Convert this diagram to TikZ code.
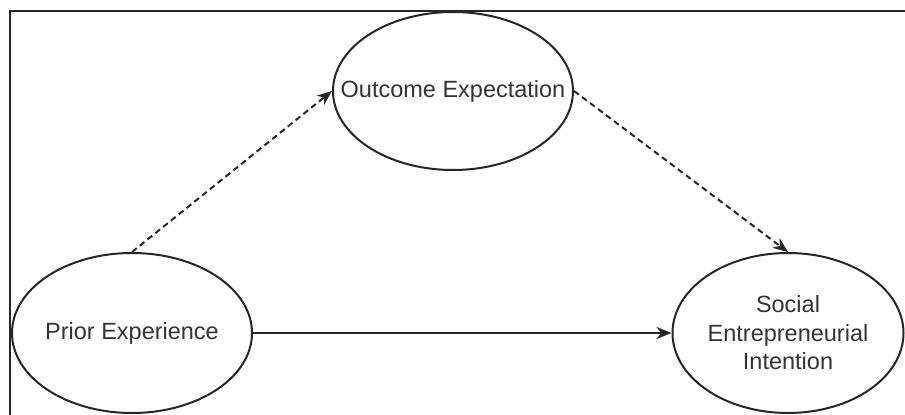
\documentclass[tikz,border=0pt]{standalone}
\usepackage{fontspec}
\setmainfont{Liberation Sans}
\usetikzlibrary{shapes.geometric,arrows.meta}
\tikzset{
  construct/.style={ellipse, draw=black!85, line width=2pt, inner sep=0pt},
  label text/.style={font=\fontsize{23.5}{28.5}\selectfont, text=black!80, align=center, inner sep=0pt},
  dashedarrow/.style={draw=black!85, line width=2pt, dash pattern=on 6pt off 4pt, -{Stealth[length=15pt,width=12pt]}},
  solidarrow/.style={draw=black!85, line width=2pt, -{Stealth[length=15pt,width=12pt]}}
}
\begin{document}
\begin{tikzpicture}[x=1pt,y=-1pt]
\useasboundingbox (0,0) rectangle (905,415);
\draw[line width=2.4pt, black!85] (10,416) -- (10,11) -- (906,11);
\node[construct, minimum width=240pt, minimum height=158pt] (oe) at (453,91) {};
\node[construct, minimum width=240pt, minimum height=160pt] (pe) at (132,333) {};
\node[construct, minimum width=231pt, minimum height=160pt] (sei) at (788,333) {};
\node[label text] (oet) at (oe.center) {Outcome Expectation};
\node[label text] (pet) at (pe.center) {Prior Experience};
\node[label text] (seit) at (sei.center) {Social\\Entrepreneurial\\Intention};
\draw[dashedarrow] (pe.north) -- (oe.west);
\draw[dashedarrow] (oe.east) -- (sei.north);
\draw[solidarrow] (pe.east) -- (sei.west);
\end{tikzpicture}
\end{document}
